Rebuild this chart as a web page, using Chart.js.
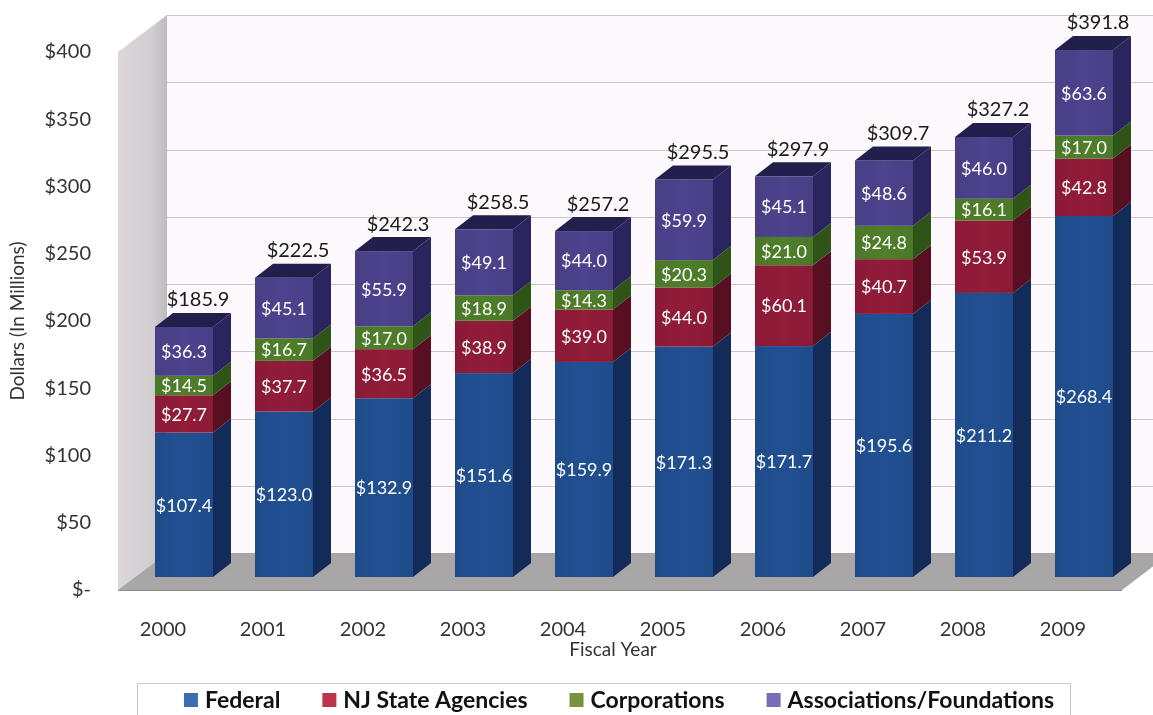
<!DOCTYPE html>
<html>
<head>
<meta charset="utf-8">
<script src="https://cdn.jsdelivr.net/npm/chart.js@4.4.1/dist/chart.umd.min.js"></script>
<style>
  body { margin: 0; background: #fff; }
  canvas { display: block; }
</style>
</head>
<body>
<canvas id="fundingChart" width="1153" height="715"></canvas>
<script>
const years = ['2000', '2001', '2002', '2003', '2004', '2005', '2006', '2007', '2008', '2009'];
const federal = [107.4, 123.0, 132.9, 151.6, 159.9, 171.3, 171.7, 195.6, 211.2, 268.4];
const njState = [27.7, 37.7, 36.5, 38.9, 39.0, 44.0, 60.1, 40.7, 53.9, 42.8];
const corporations = [14.5, 16.7, 17.0, 18.9, 14.3, 20.3, 21.0, 24.8, 16.1, 17.0];
const associations = [36.3, 45.1, 55.9, 49.1, 44.0, 59.9, 45.1, 48.6, 46.0, 63.6];
const totals = [185.9, 222.5, 242.3, 258.5, 257.2, 295.5, 297.9, 309.7, 327.2, 391.8];

// front / side / legend colours per series
const shades = [
    { front: '#1f4b8a', side: '#122b58', legend: '#3d6db0' },
    { front: '#8a1a36', side: '#590f22', legend: '#c0334f' },
    { front: '#4b7828', side: '#2f5418', legend: '#77933c' },
    { front: '#483f86', side: '#2a255e', legend: '#7a6cb5', top: '#231f4c' }
];

const fontFamily = 'Lato, "Open Sans", sans-serif';
const barShift = { x: 21, y: -13 };   // bar front plane vs axis plane
const barDepth = { x: 18, y: -14 };
const wallDepth = { x: 49, y: -37 };

const bars3d = {
    id: 'bars3d',
    beforeDatasetsDraw(chart) {
        const ctx = chart.ctx;
        const area = chart.chartArea;
        const yScale = chart.scales.y;
        const fl = area.left + 5;
        const fr = area.right + 9;
        const y0 = yScale.getPixelForValue(0);
        const yTop = yScale.getPixelForValue(400);

        ctx.save();
        // back wall
        ctx.fillStyle = '#fcf8fb';
        ctx.fillRect(fl + wallDepth.x, yTop + wallDepth.y, fr - fl, y0 - yTop);
        ctx.strokeStyle = '#c9c6c9';
        ctx.lineWidth = 1;
        for (let v = 50; v <= 400; v += 50) {
            const gy = Math.round(yScale.getPixelForValue(v) + wallDepth.y) + 0.5;
            ctx.beginPath();
            ctx.moveTo(fl + wallDepth.x, gy);
            ctx.lineTo(fr + wallDepth.x, gy);
            ctx.stroke();
        }
        // left wall
        const lg = ctx.createLinearGradient(fl, 0, fl + wallDepth.x, 0);
        lg.addColorStop(0, '#dcd7db');
        lg.addColorStop(0.7, '#d2cdd1');
        lg.addColorStop(1, '#bfbabe');
        ctx.fillStyle = lg;
        ctx.beginPath();
        ctx.moveTo(fl, yTop);
        ctx.lineTo(fl + wallDepth.x, yTop + wallDepth.y);
        ctx.lineTo(fl + wallDepth.x, y0 + wallDepth.y);
        ctx.lineTo(fl, y0);
        ctx.closePath();
        ctx.fill();
        // floor
        ctx.fillStyle = '#a9a6a7';
        ctx.beginPath();
        ctx.moveTo(fl, y0);
        ctx.lineTo(fl + wallDepth.x, y0 + wallDepth.y);
        ctx.lineTo(fr + wallDepth.x, y0 + wallDepth.y);
        ctx.lineTo(fr, y0);
        ctx.closePath();
        ctx.fill();
        ctx.strokeStyle = '#8f8c8d';
        ctx.beginPath();
        ctx.moveTo(fl, y0 + 0.5);
        ctx.lineTo(fr, y0 + 0.5);
        ctx.stroke();

        // bars
        const metas = chart.data.datasets.map((d, i) => chart.getDatasetMeta(i));
        const n = chart.data.labels.length;
        for (let j = 0; j < n; j++) {
            metas.forEach((meta, i) => {
                const el = meta.data[j];
                const w = el.width;
                const x0 = el.x - w / 2 + barShift.x;
                const x1 = el.x + w / 2 + barShift.x;
                const top = el.y + barShift.y;
                const bot = el.base + barShift.y;
                const c = shades[i];
                // side
                ctx.fillStyle = c.side;
                ctx.beginPath();
                ctx.moveTo(x1, top);
                ctx.lineTo(x1 + barDepth.x, top + barDepth.y);
                ctx.lineTo(x1 + barDepth.x, bot + barDepth.y);
                ctx.lineTo(x1, bot);
                ctx.closePath();
                ctx.fill();
                // front
                const g = ctx.createLinearGradient(x0, 0, x1, 0);
                g.addColorStop(0, c.front);
                g.addColorStop(0.5, Chart.helpers.color(c.front).lighten(0.06).hexString());
                g.addColorStop(1, c.front);
                ctx.fillStyle = g;
                ctx.fillRect(x0, top, x1 - x0, bot - top);
                // top face on last series
                if (c.top) {
                    ctx.fillStyle = c.top;
                    ctx.beginPath();
                    ctx.moveTo(x0, top);
                    ctx.lineTo(x0 + barDepth.x, top + barDepth.y);
                    ctx.lineTo(x1 + barDepth.x, top + barDepth.y);
                    ctx.lineTo(x1, top);
                    ctx.closePath();
                    ctx.fill();
                }
            });
        }

        // value labels
        ctx.textAlign = 'center';
        ctx.textBaseline = 'middle';
        ctx.font = '18px ' + fontFamily;
        ctx.fillStyle = '#ffffff';
        metas.forEach((meta, i) => {
            const vals = chart.data.datasets[i].data;
            meta.data.forEach((el, j) => {
                const cy = (el.y + el.base) / 2 + barShift.y;
                ctx.fillText('$' + vals[j].toFixed(1), el.x + barShift.x, cy + 1);
            });
        });
        ctx.font = '20px ' + fontFamily;
        ctx.fillStyle = '#1a1a1a';
        const last = metas[metas.length - 1];
        last.data.forEach((el, j) => {
            ctx.fillText('$' + totals[j].toFixed(1), el.x + barShift.x + 14, el.y + barShift.y - 27);
        });

        // legend
        ctx.strokeStyle = '#c8c8c8';
        ctx.strokeRect(137.5, 683.5, 933, 40);
        ctx.font = 'bold 23px ' + fontFamily;
        ctx.textAlign = 'left';
        const box = 14, gapText = 7, gapItem = 42;
        const widths = chart.data.datasets.map(d => box + gapText + ctx.measureText(d.label).width);
        const total = widths.reduce((a, b) => a + b, 0) + gapItem * (widths.length - 1);
        let lx = 619 - total / 2;
        const ly = 700;
        chart.data.datasets.forEach((d, i) => {
            ctx.fillStyle = shades[i].legend;
            ctx.fillRect(lx, ly - box / 2, box, box);
            ctx.fillStyle = '#111';
            ctx.fillText(d.label, lx + box + gapText, ly + 1);
            lx += widths[i] + gapItem;
        });
        ctx.restore();
        return false;
    }
};

const ctx = document.getElementById('fundingChart').getContext('2d');
new Chart(ctx, {
    type: 'bar',
    data: {
        labels: years,
        datasets: [
            { label: 'Federal', data: federal, backgroundColor: shades[0].legend },
            { label: 'NJ State Agencies', data: njState, backgroundColor: shades[1].legend },
            { label: 'Corporations', data: corporations, backgroundColor: shades[2].legend },
            { label: 'Associations/Foundations', data: associations, backgroundColor: shades[3].legend }
        ]
    },
    options: {
        responsive: false,
        animation: false,
        layout: { padding: { top: 52, right: 40, bottom: 54, left: 0 } },
        datasets: { bar: { categoryPercentage: 0.58, barPercentage: 1 } },
        plugins: {
            legend: { display: false },
            tooltip: { enabled: false }
        },
        scales: {
            x: {
                stacked: true,
                grid: { display: false, drawTicks: false },
                border: { display: false },
                ticks: { padding: 28, color: '#333', font: { family: fontFamily, size: 20 }, maxRotation: 0 },
                title: { display: true, text: 'Fiscal Year', color: '#333', padding: { top: 0, bottom: 0 }, font: { family: fontFamily, size: 19 } },
                afterFit: scale => { scale.height = 71; }
            },
            y: {
                stacked: true,
                min: 0,
                max: 400,
                grid: { display: false, drawTicks: false },
                border: { display: false },
                ticks: {
                    stepSize: 50,
                    padding: 22,
                    color: '#333',
                    font: { family: fontFamily, size: 20 },
                    callback: v => v === 0 ? '$-' : '$' + v
                },
                title: { display: true, text: 'Dollars (In Millions)', color: '#333', padding: { top: 6, bottom: 0 }, font: { family: fontFamily, size: 19 } },
                afterFit: scale => { scale.width = 113; }
            }
        }
    },
    plugins: [bars3d]
});
</script>
</body>
</html>
